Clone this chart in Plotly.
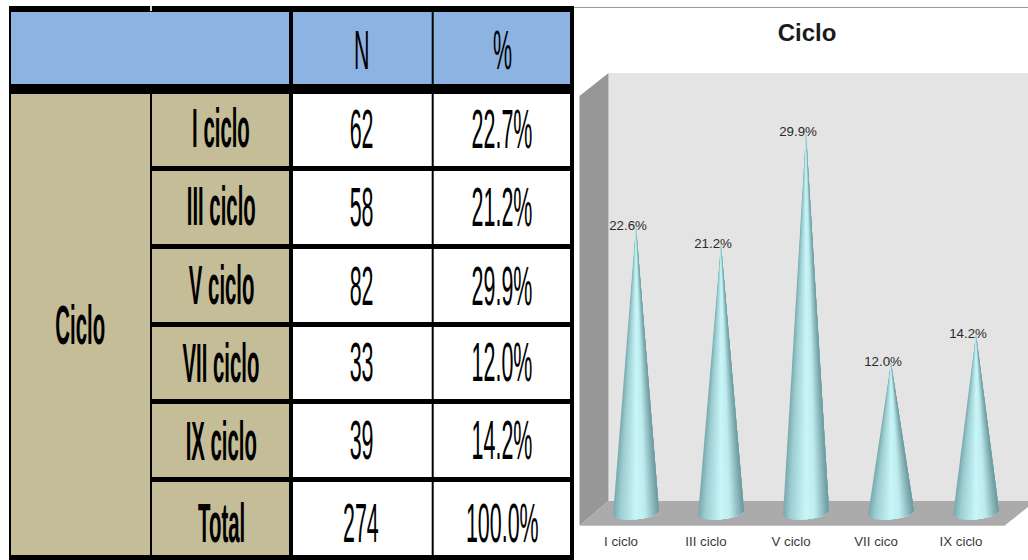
import numpy as np
import plotly.graph_objects as go

# Table content
group_label = "Ciclo"
row_labels = ["I ciclo", "III ciclo", "V ciclo", "VII ciclo", "IX ciclo", "Total"]
row_n = ["62", "58", "82", "33", "39", "274"]
row_pct = ["22.7%", "21.2%", "29.9%", "12.0%", "14.2%", "100.0%"]
col_heads = ["N", "%"]

# Cone chart content
chart_title = "Ciclo"
cone_labels = ["I ciclo", "III ciclo", "V ciclo", "VII cico", "IX ciclo"]
cone_values = [22.6, 21.2, 29.9, 12.0, 14.2]

W, H = 1028, 560
BLUE, TAN = "#8DB3E2", "#C4BD97"

# The chart plane: 85 px per category, 12.85 px per percentage point
STEP, UNIT = 85.0, 12.85
X0_PX, BASE_PX = 636.0, 517.0
LEFT_PX, RIGHT_PX, TOP_PX, FLOOR_PX = 575.0, 1028.0, 7.0, 525.7


def px(x):
    return x / W


def py(y):
    return 1 - y / H


def rect(x0, y0, x1, y1, color, layer="above"):
    return dict(type="rect", xref="paper", yref="paper", x0=px(x0), x1=px(x1),
                y0=py(y0), y1=py(y1), fillcolor=color, line_width=0, layer=layer)


def poly(points, color):
    path = "M" + " L".join(f"{px(a):.5f},{py(b):.5f}" for a, b in points) + " Z"
    return dict(type="path", xref="paper", yref="paper", path=path,
                fillcolor=color, line_width=0, layer="below")


shapes = [
    # Chart box: back wall, side wall, floor, top rule
    poly([(608.5, 73), (1028, 73), (1028, 501), (608.5, 501)], "#E4E4E4"),
    poly([(579.5, 96), (608.5, 73), (608.5, 501), (579.5, 525.7)], "#979797"),
    poly([(579.5, 525.7), (608.5, 501), (1028, 501), (1028, 507), (1004.5, 525.7)], "#ABABAB"),
    rect(574, 7, 1028, 8, "#9A9A9A", "below"),
    # Table: black slab with coloured and white cells on top
    rect(9, 6, 574, 560, "#000000"),
    rect(11, 12, 289, 84, BLUE),
    rect(293, 12, 431.7, 84, BLUE),
    rect(433.7, 12, 570, 84, BLUE),
    rect(11, 94, 150, 555, TAN),
    rect(150, 6, 152, 11, "#D8D8D8"),
]
row_edges = [(94, 166), (171, 244), (249, 322), (327, 399), (404, 477), (482, 555)]
for top, bottom in row_edges:
    shapes += [rect(152, top, 289, bottom, TAN),
               rect(293, top, 431.7, bottom, "#FFFFFF"),
               rect(433.7, top, 570, bottom, "#FFFFFF")]


# Table text; these come first so the narrowing script can pick them by index
def cell(text, x, y, bold=False):
    return dict(text=text, xref="paper", yref="paper", x=px(x), y=py(y),
                xanchor="center", yanchor="middle", showarrow=False,
                font=dict(family="Liberation Sans", size=55, color="#000000",
                          weight="bold" if bold else "normal"))


annotations = [cell(col_heads[0], 361.7, 49.5), cell(col_heads[1], 502.3, 49.5),
               cell(group_label, 79.7, 325.3, True)]
label_y = [128, 206, 284.7, 363, 441, 522.5]
value_y = [129.5, 207, 285.5, 362, 440, 523.3]
for name, n, pct, ly, vy in zip(row_labels, row_n, row_pct, label_y, value_y):
    annotations += [cell(name, 221, ly, True), cell(n, 361.3, vy), cell(pct, 502.3, vy)]
n_table_texts = len(annotations)

fig = go.Figure()

# Shading across a cone: position along the foot -> RGB
SHADE_POS = [0.0, 0.15, 0.5, 0.7, 0.9, 1.0]
SHADE_RGB = np.array([[0x79, 0xA9, 0xAE], [0x9C, 0xCD, 0xD0], [0xC9, 0xF6, 0xF9],
                      [0xBD, 0xEB, 0xEE], [0x86, 0xB3, 0xB8], [0x6B, 0x99, 0x9E]])


def shade(t):
    r, g, b = (int(round(np.interp(t, SHADE_POS, SHADE_RGB[:, c]))) for c in range(3))
    return f"rgb({r},{g},{b})"


# Each cone is painted left to right as overlapping wedges from the foot up to
# the tip, so the shading narrows with the cone and no seams show.
HALF = 23 / STEP
N_WEDGES = 30
for i, value in enumerate(cone_values):
    for k in range(N_WEDGES):
        start = k / N_WEDGES
        t = np.linspace(start, 1, 25)
        foot_x = i - HALF + 2 * HALF * t
        sag = np.sqrt(np.clip(1 - (2 * t - 1) ** 2, 0, 1))
        foot_y = (2 + 4.3 * t - 6.5 * sag) / UNIT
        fig.add_trace(go.Scatter(
            x=[i, *foot_x, i], y=[value, *foot_y, value],
            mode="lines", line=dict(width=0), fill="toself",
            fillcolor=shade(start + 0.5 / N_WEDGES),
            hoverinfo="skip", showlegend=False))

# Percentage labels sit at the cone tips
fig.add_trace(go.Scatter(
    x=[i - 8 / STEP for i in range(len(cone_values))],
    y=cone_values,
    mode="text", text=[f"{v:.1f}%" for v in cone_values],
    textposition="middle center",
    textfont=dict(family="Liberation Sans", size=13.3, color="#2A2A2A"),
    hoverinfo="skip", showlegend=False))

fig.update_layout(
    width=W, height=H, margin=dict(l=0, r=0, t=0, b=0),
    paper_bgcolor="#FFFFFF", plot_bgcolor="rgba(0,0,0,0)",
    shapes=shapes, annotations=annotations,
    title=dict(text=f"<b>{chart_title}</b>", x=807 / W, y=py(33), xref="paper",
               yref="paper", xanchor="center", yanchor="middle",
               font=dict(family="Liberation Sans", size=24, color="#1A1A1A")),
    xaxis=dict(domain=[px(LEFT_PX), px(RIGHT_PX)],
               range=[(LEFT_PX - X0_PX) / STEP, (RIGHT_PX - X0_PX) / STEP],
               tickmode="array",
               tickvals=[i - 15 / STEP for i in range(len(cone_labels))],
               ticktext=cone_labels, ticks="outside", ticklen=3,
               tickcolor="rgba(0,0,0,0)", showgrid=False, zeroline=False, showline=False,
               tickfont=dict(family="Liberation Sans", size=13.3, color="#3A3A3A")),
    yaxis=dict(domain=[py(FLOOR_PX), py(TOP_PX)],
               range=[(BASE_PX - FLOOR_PX) / UNIT, (BASE_PX - TOP_PX) / UNIT],
               visible=False),
)

# Table type is tall and tightly condensed, which no installed face provides
narrow_text = """
var gd = document.getElementById('{plot_id}');
gd.querySelectorAll('.annotation[data-index]').forEach(function (a) {
  var i = +a.getAttribute('data-index');
  if (i >= %d) return;
  var t = a.querySelector('text');
  var x = parseFloat(t.getAttribute('x'));
  var s = t.style.fontWeight === 'bold' || t.style.fontWeight === '700' ? 0.37 : 0.39;
  t.setAttribute('transform', 'translate(' + x + ',0) scale(' + s + ',1) translate(' + (-x) + ',0)');
});
""" % n_table_texts

fig.write_html("out.html", post_script=narrow_text)
